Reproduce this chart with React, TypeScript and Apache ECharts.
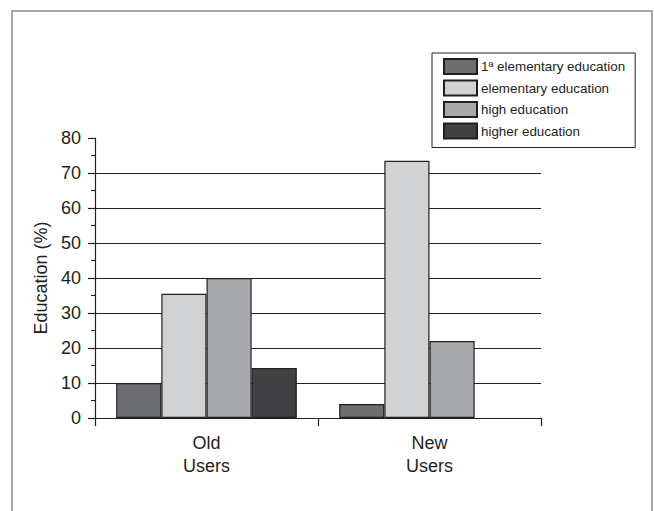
import React, { useEffect, useRef } from "react";
import * as echarts from "echarts";

const categories = ["Old\nUsers", "New\nUsers"];
const seriesNames = ["1ª elementary education", "elementary education", "high education", "higher education"];
const firstElementary = [10, 4];
const elementary = [35.5, 73.5];
const high = [40, 22];
const higher: (number | null)[] = [14.3, null];
const colors = ["#6d6e71", "#d1d2d4", "#a7a9ac", "#414042"];
const yTicks = { min: 0, max: 80, interval: 10 };

export default function App() {
  const ref = useRef<HTMLDivElement>(null);
  useEffect(() => {
    if (!ref.current) return;
    const chart = echarts.init(ref.current, null, { renderer: "svg" });
    const values = [firstElementary, elementary, high, higher];
    const font = "Liberation Sans, Arial, sans-serif";
    chart.setOption({
      animation: false,
      textStyle: { fontFamily: font },
      graphic: [
        {
          type: "rect",
          shape: { x: 12, y: 11, width: 640, height: 520 },
          style: { fill: "none", stroke: "#8a8a8a", lineWidth: 1.5 },
        },
      ],
      legend: {
        orient: "vertical",
        left: 432,
        top: 53,
        padding: [5, 10, 8, 11],
        borderColor: "#231f20",
        borderWidth: 1,
        itemWidth: 33,
        itemHeight: 15,
        itemGap: 4.5,
        icon: "rect",
        textStyle: { fontSize: 13.4, color: "#231f20", padding: [0, 0, 0, -1], fontFamily: font },
        data: seriesNames,
      },
      grid: { left: 95, right: 113, top: 138, bottom: 93, containLabel: false },
      xAxis: {
        type: "category",
        data: categories,
        axisLine: { lineStyle: { color: "#231f20", width: 1.2 } },
        axisTick: { show: true, length: 8, lineStyle: { color: "#231f20", width: 1.2 } },
        axisLabel: { fontSize: 18, color: "#231f20", margin: 13, lineHeight: 23, fontFamily: font },
      },
      yAxis: {
        type: "value",
        min: yTicks.min,
        max: yTicks.max,
        interval: yTicks.interval,
        name: "Education (%)",
        nameLocation: "middle",
        nameRotate: 90,
        nameGap: 45,
        nameTextStyle: { fontSize: 18, color: "#231f20", fontFamily: font },
        axisLine: { show: true, lineStyle: { color: "#231f20", width: 1.2 } },
        axisTick: { show: true, length: 7, lineStyle: { color: "#231f20", width: 1.2 } },
        minorTick: { show: true, splitNumber: 2, length: 4, lineStyle: { color: "#231f20", width: 1 } },
        axisLabel: { fontSize: 18, color: "#231f20", margin: 14, fontFamily: font },
        splitLine: {
          show: true,
          showMinLine: false,
          showMaxLine: false,
          lineStyle: { color: "#231f20", width: 1.2 },
        },
      },
      series: seriesNames.map((name, i) => ({
        name,
        type: "bar",
        data: values[i],
        barGap: "0%",
        barCategoryGap: "19%",
        itemStyle: { color: colors[i], borderColor: "#231f20", borderWidth: 1.2 },
      })),
    });
    return () => chart.dispose();
  }, []);
  return (
    <div
      ref={ref}
      style={{ position: "absolute", left: 0, top: 0, width: 654, height: 511, background: "#fff" }}
    />
  );
}
